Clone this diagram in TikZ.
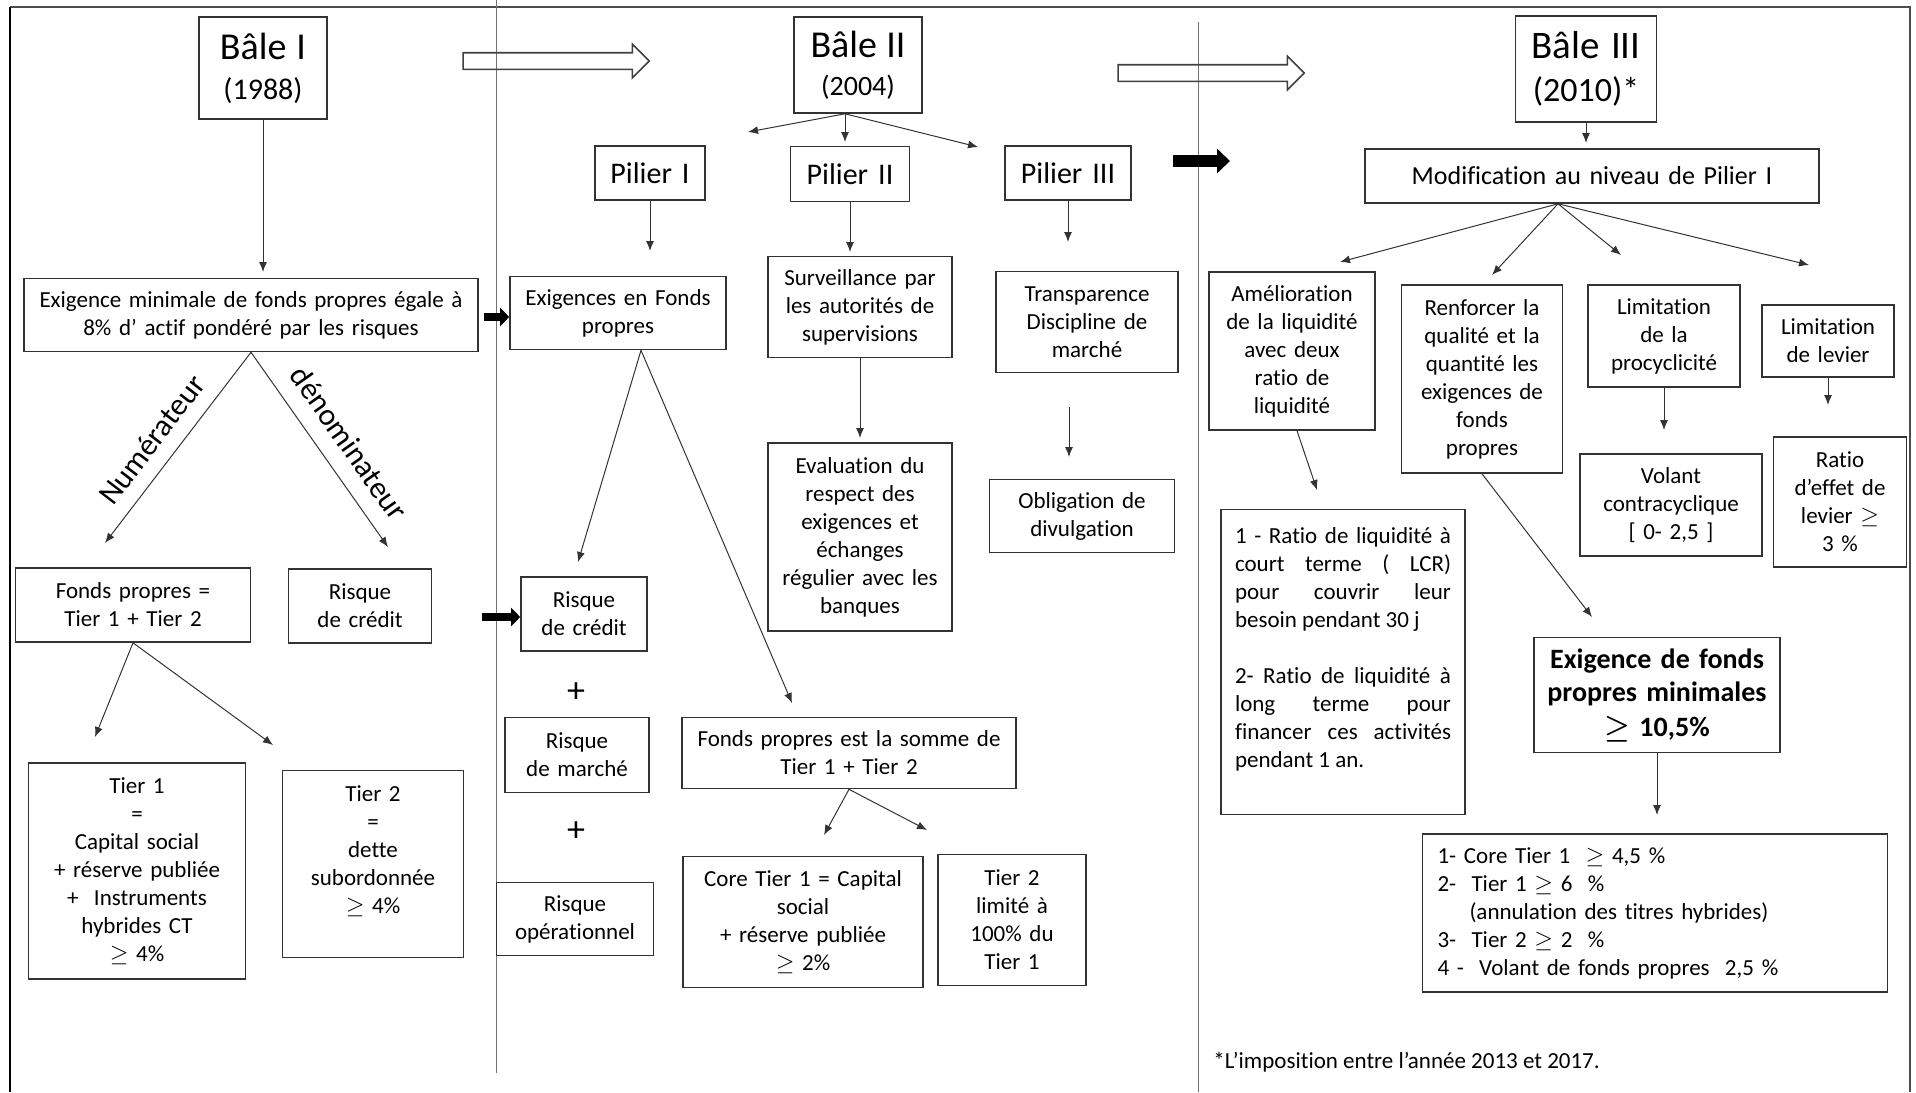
\documentclass[tikz,border=0pt]{standalone}
\usepackage{fontspec}
\setmainfont{Carlito}[RawFeature={-liga;-clig;-calt}]
\usetikzlibrary{arrows.meta,shapes.arrows}

\begin{document}
\begin{tikzpicture}[x=0.5pt,y=-0.5pt]
\tikzstyle{box}=[draw=black!80,line width=0.8pt,align=center,inner xsep=2pt,inner ysep=0pt,font=\fontsize{11.5}{14}\selectfont]
\tikzstyle{arr}=[draw=black!80,line width=0.5pt,-{Latex[length=5pt,width=4pt]}]
\tikzstyle{bigarr}=[line width=4pt,-{Triangle[length=4.5pt,width=9pt]}]
\tikzstyle{openarrow}=[single arrow,draw=black!75,line width=0.8pt,inner xsep=0pt,inner ysep=3.75pt,single arrow head extend=4.25pt,minimum height=93pt]
\tikzstyle{lbl}=[font=\fontsize{15.5}{18}\selectfont,sloped]

\useasboundingbox (0,0) rectangle (1916,1092);

% cadre et separations
\draw[black!70,line width=0.8pt] (1910,1092) -- (1910,7) -- (10,7);
\draw[line width=1.4pt] (10,7) -- (10,1092);
\draw[black!55,line width=0.5pt] (496,0) -- (496,1073);
\draw[black!55,line width=0.5pt] (1198,22) -- (1198,1092);

% Bale I
\node[box,text width=60pt,minimum height=51pt,font=\fontsize{15}{20}\selectfont] (B1) at (263,68) {{\fontsize{19}{20}\selectfont Bâle I}\\(1988)};
\node[box,text width=223pt,minimum height=36.5pt] (EX) at (251,315) {Exigence minimale de fonds propres égale à\\8\% d’ actif pondéré par les risques};
\node[box,text width=113.5pt,minimum height=37pt] (FP) at (133,605) {Fonds propres =\\Tier 1 + Tier 2};
\node[box,text width=67.5pt,minimum height=37pt] (RC1) at (360,606) {Risque\\de crédit};
\node[box,text width=104.5pt,minimum height=108pt] (T1) at (137,871) {Tier 1\\=\\Capital social\\+ réserve publiée\\+\ \ Instruments\\hybrides CT\\$\geq$ 4\%};
\node[box,text width=86.5pt,minimum height=93.5pt] (T2) at (373,864) {Tier 2\\=\\dette\\subordonnée\\$\geq$ 4\%\\\mbox{}};

% Bale II
\node[box,text width=60pt,minimum height=48pt,font=\fontsize{14}{19}\selectfont] (B2) at (858,65) {{\fontsize{19}{19}\selectfont Bâle II}\\(2004)};
\node[box,text width=51pt,minimum height=27pt,font=\fontsize{15}{18}\selectfont] (P1) at (650,173) {Pilier I};
\node[box,text width=55.5pt,minimum height=27.5pt,font=\fontsize{15}{18}\selectfont] (P2) at (850,174) {Pilier II};
\node[box,text width=59pt,minimum height=27pt,font=\fontsize{15}{18}\selectfont] (P3) at (1068,173) {Pilier III};
\node[box,text width=104pt,minimum height=36.5pt] (EXF) at (618,313) {Exigences en Fonds\\propres};
\node[box,text width=88pt,minimum height=50.5pt] (SUR) at (860,307) {Surveillance par\\les autorités de\\supervisions};
\node[box,text width=87pt,minimum height=50.5pt] (TRA) at (1087,322) {Transparence\\Discipline de\\marché};
\node[box,text width=88pt,minimum height=94pt] (EVA) at (860,537) {Evaluation du\\respect des\\exigences et\\échanges\\régulier avec les\\banques};
\node[box,text width=88.5pt,minimum height=36.5pt] (OBL) at (1082,516) {Obligation de\\divulgation};
\node[box,text width=59pt,minimum height=37pt] (RC2) at (584,614) {Risque\\de crédit};
\node[font=\fontsize{18}{20}\selectfont] (PL1) at (576,693) {+};
\node[box,text width=68pt,minimum height=37.5pt] (RM) at (577,755) {Risque\\de marché};
\node[font=\fontsize{18}{20}\selectfont] (PL2) at (576,832) {+};
\node[box,text width=74.5pt,minimum height=36.5pt] (RO) at (575,919) {Risque\\opérationnel};
\node[box,text width=163pt,minimum height=35.5pt] (FPS) at (849,753) {Fonds propres est la somme de\\Tier 1 + Tier 2};
\node[box,text width=116pt,minimum height=65.5pt] (CT1) at (803,922) {Core Tier 1 = Capital\\social\\+ réserve publiée\\$\geq$ 2\%};
\node[box,text width=70pt,minimum height=65.5pt] (T2L) at (1012,920) {Tier 2\\limité à\\100\% du\\Tier 1};

% Bale III
\node[box,text width=66.5pt,minimum height=53pt,font=\fontsize{17}{21.5}\selectfont] (B3) at (1586,69) {{\fontsize{19.5}{21.5}\selectfont Bâle III}\\(2010)*};
\node[box,text width=223pt,minimum height=27pt,font=\fontsize{13}{16}\selectfont] (MOD) at (1592,176) {Modification au niveau de Pilier I};
\node[box,text width=79pt,minimum height=79pt] (AME) at (1292,351) {Amélioration\\de la liquidité\\avec deux\\ratio de\\liquidité};
\node[box,text width=76.5pt,minimum height=94pt] (REN) at (1482,379) {Renforcer la\\qualité et la\\quantité les\\exigences de\\fonds\\propres};
\node[box,text width=72pt,minimum height=51pt] (PRO) at (1664,336) {Limitation\\de la\\procyclicité};
\node[box,text width=62pt,minimum height=36pt] (LEV) at (1828,341) {Limitation\\de levier};
\node[box,text width=87pt,minimum height=51pt] (VOL) at (1671,505) {Volant\\contracyclique\\{[} 0- 2,5 {]}};
\node[box,text width=62.5pt,minimum height=65pt] (RLE) at (1840,502) {Ratio\\d’effet de\\levier $\geq$\\3 \%};
\node[box,align=justify,inner xsep=7pt,text width=108pt,minimum height=152.5pt] (RLQ) at (1343,662) {1 - Ratio de liquidité à\linebreak court terme ( LCR)\linebreak pour couvrir leur\linebreak besoin pendant 30 j\par\vspace{14pt}2- Ratio de liquidité à\linebreak long terme pour\linebreak financer ces activités\linebreak pendant 1 an.\par\mbox{}};
\node[box,text width=119pt,minimum height=57.5pt,font=\bfseries\boldmath\fontsize{14}{17}\selectfont] (EXM) at (1657,695) {Exigence de fonds\\propres minimales\\$\geq$ 10,5\%};
\node[box,align=left,inner xsep=7.5pt,text width=217.5pt,minimum height=79pt] (LST) at (1655,913) {1- Core Tier 1 \ $\geq$ 4,5 \%\\2- \ Tier 1 $\geq$ 6 \ \%\\\hspace*{16pt}(annulation des titres hybrides)\\3- \ Tier 2 $\geq$ 2 \ \%\\4 - \ Volant de fonds propres \ 2,5 \%};
\node[anchor=west,inner sep=0pt,font=\fontsize{11.5}{14}\selectfont] (NOTE) at (1213,1062) {*L’imposition entre l’année 2013 et 2017.};

% fleches creuses
\node[openarrow] (A1) at (552,61) {};
\node[openarrow] (A2) at (1207,73) {};

% bouts des fleches
\coordinate (tB1) at (263,272);
\coordinate (tB2a) at (748,132);
\coordinate (tB2b) at (845,142);
\coordinate (tB2c) at (978,147);
\coordinate (tP1) at (650,251);
\coordinate (tP2) at (850,252);
\coordinate (tP3) at (1068,242);
\coordinate (sOB) at (1069,407);
\coordinate (tOB) at (1069,457);
\coordinate (tSU) at (860,438);
\coordinate (tEF1) at (578,562);
\coordinate (tEF2) at (792,703);
\coordinate (tFS1) at (824,835);
\coordinate (tFS2) at (927,830);
\coordinate (tEX1) at (105,543);
\coordinate (tEX2) at (388,547);
\coordinate (tFP1) at (95,737);
\coordinate (tFP2) at (273,745);
\coordinate (tB3) at (1586,143);
\coordinate (tM1) at (1340,262);
\coordinate (tM2) at (1492,275);
\coordinate (tM3) at (1621,255);
\coordinate (tM4) at (1809,265);
\coordinate (tAM) at (1317,490);
\coordinate (tRE) at (1592,617);
\coordinate (tPR) at (1664,430);
\coordinate (tLE) at (1828,405);
\coordinate (tXM) at (1657,815);
\coordinate (k1) at (484,317);
\coordinate (k2) at (482,617);
\coordinate (k3) at (1173,161);
\coordinate (k3e) at (1230,161);

% Bale I
\draw[arr] (B1.south) -- (tB1);
\draw[arr] (EX.south) -- node[lbl,pos=0.54,above=4pt] {Numérateur} (tEX1);
\draw[arr] (EX.south) -- node[lbl,pos=0.55,above=5pt] {dénominateur} (tEX2);
\draw[arr] (FP.south) -- (tFP1);
\draw[arr] (FP.south) -- (tFP2);
\draw[bigarr] (k1) -- (k1 -| EXF.west);
\draw[bigarr] (k2) -- (k2 -| RC2.west);

% Bale II
\draw[arr] ([xshift=-6.5pt]B2.south) -- (tB2a);
\draw[arr] ([xshift=-6.5pt]B2.south) -- (tB2b);
\draw[arr] ([xshift=-6.5pt]B2.south) -- (tB2c);
\draw[arr] (P1.south) -- (tP1);
\draw[arr] (P2.south) -- (tP2);
\draw[arr] (P3.south) -- (tP3);
\draw[arr] (SUR.south) -- (tSU);
\draw[arr] (sOB) -- (tOB);
\draw[arr] ([xshift=11.5pt]EXF.south) -- (tEF1);
\draw[arr] ([xshift=11.5pt]EXF.south) -- (tEF2);
\draw[arr] (FPS.south) -- (tFS1);
\draw[arr] (FPS.south) -- (tFS2);
\draw[line width=6pt,-{Triangle[length=6.5pt,width=12pt]}] (k3) -- (k3e);

% Bale III
\draw[arr] (B3.south) -- (tB3);
\draw[arr] ([xshift=-17pt]MOD.south) -- (tM1);
\draw[arr] ([xshift=-17pt]MOD.south) -- (tM2);
\draw[arr] ([xshift=-17pt]MOD.south) -- (tM3);
\draw[arr] ([xshift=-17pt]MOD.south) -- (tM4);
\draw[arr] ([xshift=2.5pt]AME.south) -- (tAM);
\draw[arr] (REN.south) -- (tRE);
\draw[arr] (PRO.south) -- (tPR);
\draw[arr] (LEV.south) -- (tLE);
\draw[arr] (EXM.south) -- (tXM);
\end{tikzpicture}
\end{document}
